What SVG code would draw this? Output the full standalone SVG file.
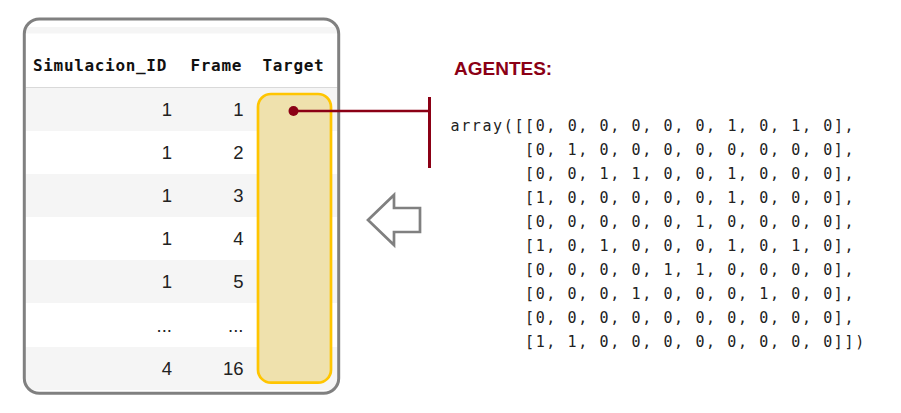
<svg xmlns="http://www.w3.org/2000/svg" width="901" height="413" viewBox="0 0 901 413">
<defs>
<clipPath id="boxclip"><rect x="25.5" y="20.5" width="312" height="371.5" rx="14"/></clipPath>
<style>
.hdr{font-family:"DejaVu Sans Mono",monospace;font-weight:bold;font-size:16px;letter-spacing:0.67px;fill:#111}
.num{font-family:"Liberation Sans",Arial,sans-serif;font-size:18.5px;fill:#222;text-anchor:end}
.alt{fill:#f5f5f5}
.code{font-family:"DejaVu Sans Mono",monospace;font-size:15px;letter-spacing:1.62px;fill:#222}
.red{stroke:#8b0015;stroke-width:2.6;fill:none}
</style>
</defs>
<rect width="901" height="413" fill="#ffffff"/>
<g id="table">
<g clip-path="url(#boxclip)">
<rect x="20" y="27" width="322" height="6.5" class="alt"/>
<rect x="20" y="88" width="322" height="43" class="alt"/>
<rect x="20" y="174" width="322" height="43" class="alt"/>
<rect x="20" y="260" width="322" height="43" class="alt"/>
<rect x="20" y="347" width="322" height="43" class="alt"/>
<line x1="20" y1="87.5" x2="342" y2="87.5" stroke="#d9d9d9" stroke-width="1.2"/>
</g>
<rect x="24.3" y="19" width="314.4" height="374.3" rx="15" fill="none" stroke="#808080" stroke-width="3"/>
<text class="hdr" x="33" y="71">Simulacion_ID</text>
<text class="hdr" x="190.5" y="71">Frame</text>
<text class="hdr" x="262.5" y="71">Target</text>
<text class="num" x="172" y="116">1</text><text class="num" x="243.5" y="116">1</text>
<text class="num" x="172" y="159">1</text><text class="num" x="243.5" y="159">2</text>
<text class="num" x="172" y="202">1</text><text class="num" x="243.5" y="202">3</text>
<text class="num" x="172" y="245">1</text><text class="num" x="243.5" y="245">4</text>
<text class="num" x="172" y="288">1</text><text class="num" x="243.5" y="288">5</text>
<text class="num" x="172" y="332">...</text><text class="num" x="243.5" y="332">...</text>
<text class="num" x="172" y="375">4</text><text class="num" x="243.5" y="375">16</text>
</g>
<g id="target-highlight">
<rect x="258" y="94" width="73" height="288.7" rx="13" fill="#efe1ad" stroke="#ffc500" stroke-width="2.7"/>
</g>
<g id="connectors">
<line x1="293" y1="111" x2="430" y2="111" class="red"/>
<line x1="429.5" y1="97" x2="429.5" y2="168" stroke="#8b0015" stroke-width="3"/>
<circle cx="293.5" cy="111" r="5" fill="#8b0015"/>
</g>
<g id="arrow">
<polygon points="368,220 394,195 394,208 420,208 420,232 394,232 394,245" fill="#ffffff" stroke="#808080" stroke-width="2.7" stroke-linejoin="miter"/>
</g>
<g id="agentes-label">
<text x="454" y="75" font-family="'Liberation Sans',Arial,sans-serif" font-weight="bold" font-size="19" fill="#8b0015">AGENTES:</text>
</g>
<g id="array">
<text class="code" x="450.5" y="131">array([[0, 0, 0, 0, 0, 0, 1, 0, 1, 0],</text>
<text class="code" x="525" y="155">[0, 1, 0, 0, 0, 0, 0, 0, 0, 0],</text>
<text class="code" x="525" y="179">[0, 0, 1, 1, 0, 0, 1, 0, 0, 0],</text>
<text class="code" x="525" y="203">[1, 0, 0, 0, 0, 0, 1, 0, 0, 0],</text>
<text class="code" x="525" y="227">[0, 0, 0, 0, 0, 1, 0, 0, 0, 0],</text>
<text class="code" x="525" y="251">[1, 0, 1, 0, 0, 0, 1, 0, 1, 0],</text>
<text class="code" x="525" y="275">[0, 0, 0, 0, 1, 1, 0, 0, 0, 0],</text>
<text class="code" x="525" y="299">[0, 0, 0, 1, 0, 0, 0, 1, 0, 0],</text>
<text class="code" x="525" y="323">[0, 0, 0, 0, 0, 0, 0, 0, 0, 0],</text>
<text class="code" x="525" y="347">[1, 1, 0, 0, 0, 0, 0, 0, 0, 0]])</text>
</g>
</svg>
